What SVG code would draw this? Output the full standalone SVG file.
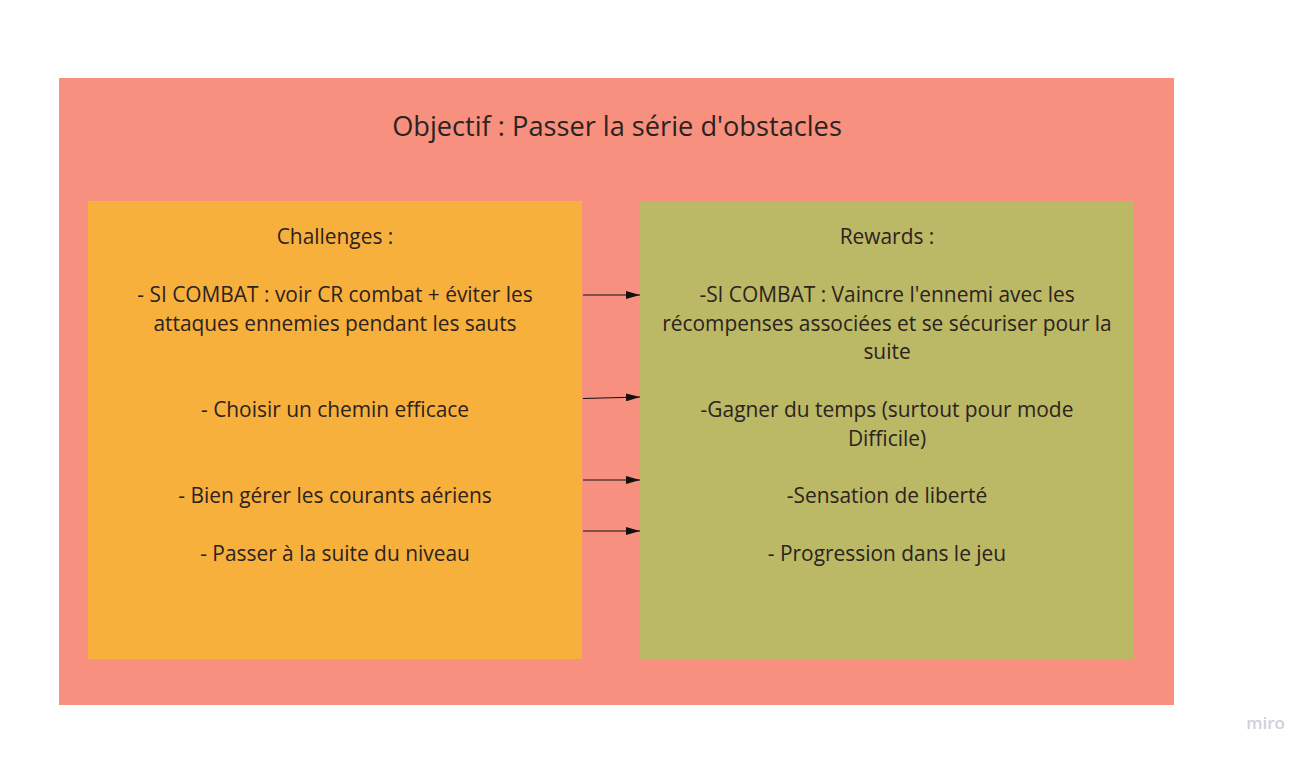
<svg xmlns="http://www.w3.org/2000/svg" width="1314" height="760" viewBox="0 0 1314 760">
<style>
.t{font-family:"Open Sans","Liberation Sans",sans-serif;font-size:20.9px;fill:#2b2320;text-anchor:middle}
.title{font-size:27.2px}
.c{stroke:#111;stroke-width:1.2;fill:none}
</style>
<defs>
<marker id="ah" markerWidth="14" markerHeight="8" refX="14" refY="4" orient="auto" markerUnits="userSpaceOnUse">
<path d="M0,0 L14,4 L0,8 Z" fill="#111"/>
</marker>
</defs>
<rect width="1314" height="760" fill="#ffffff"/>
<g id="frame">
<rect x="59" y="78" width="1115" height="627" fill="#F7907E"/>
<text class="t title" x="617" y="136">Objectif : Passer la série d'obstacles</text>
</g>
<g id="challenges">
<rect x="88" y="201" width="494" height="458" fill="#F8B03D"/>
<text class="t" x="335" y="244">Challenges :</text>
<text class="t" x="335" y="302">- SI COMBAT : voir CR combat + éviter les</text>
<text class="t" x="335" y="331">attaques ennemies pendant les sauts</text>
<text class="t" x="335" y="417">- Choisir un chemin efficace</text>
<text class="t" x="335" y="503">- Bien gérer les courants aériens</text>
<text class="t" x="335" y="561">- Passer à la suite du niveau</text>
</g>
<g id="rewards">
<rect x="640" y="201" width="494" height="458" fill="#BBB866"/>
<text class="t" x="887" y="244">Rewards :</text>
<text class="t" x="887" y="302">-SI COMBAT : Vaincre l'ennemi avec les</text>
<text class="t" x="887" y="331">récompenses associées et se sécuriser pour la</text>
<text class="t" x="887" y="359">suite</text>
<text class="t" x="887" y="417">-Gagner du temps (surtout pour mode</text>
<text class="t" x="887" y="446">Difficile)</text>
<text class="t" x="887" y="503">-Sensation de liberté</text>
<text class="t" x="887" y="561">- Progression dans le jeu</text>
</g>
<g id="connectors">
<line class="c" x1="583" y1="295" x2="640" y2="295" marker-end="url(#ah)"/>
<line class="c" x1="583" y1="398.5" x2="640" y2="397" marker-end="url(#ah)"/>
<line class="c" x1="583" y1="480" x2="640" y2="480" marker-end="url(#ah)"/>
<line class="c" x1="583" y1="531" x2="640" y2="531" marker-end="url(#ah)"/>
</g>
<text x="1285" y="729" font-family="Open Sans, Liberation Sans, sans-serif" font-size="17" font-weight="600" fill="#d0d0dc" text-anchor="end">miro</text>
</svg>
